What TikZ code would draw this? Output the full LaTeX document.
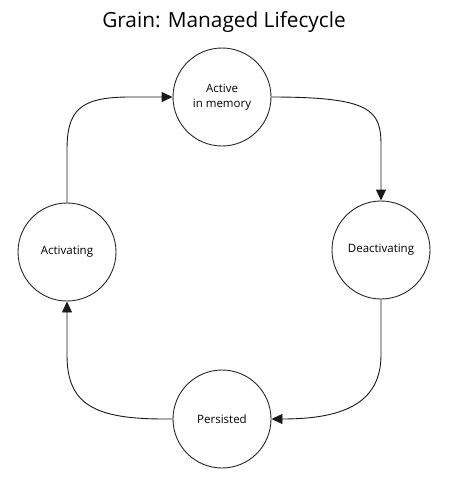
\documentclass[tikz,border=0pt]{standalone}
\usepackage{fontspec}
\setmainfont{Open Sans}
\usetikzlibrary{arrows.meta}
\begin{document}
\begin{tikzpicture}[x=1pt,y=-1pt,
  state/.style={draw=black!85,circle,minimum size=98pt,inner sep=0pt,line width=0.9pt,font=\fontsize{11.5}{15}\selectfont,align=center},
  flow/.style={draw=black!90,line width=0.9pt,-{Triangle[length=11pt,width=10pt]}}]
\useasboundingbox (0,0) rectangle (448,482);
\node[font=\fontsize{20.8}{24}\selectfont] (title) at (224,22) {Grain: Managed Lifecycle};
\node[state] (act) at (222,97) {Active\\in memory};
\node[state] (deact) at (381,250) {Deactivating};
\node[state] (pers) at (222,419) {Persisted};
\node[state] (acting) at (67,252) {Activating};
\draw[flow] (act.east) .. controls (371,97) and (381,110) .. (381,145) -- (deact.north);
\draw[flow] (deact.south) -- (381,355) .. controls (381,405) and (340,419) .. (pers.east);
\draw[flow] (pers.west) -- (165,419) .. controls (95,419) and (67,405) .. (67,355) -- (acting.south);
\draw[flow] (acting.north) -- (67,150) .. controls (67,110) and (80,97) .. (130,97) -- (act.west);
\end{tikzpicture}
\end{document}
